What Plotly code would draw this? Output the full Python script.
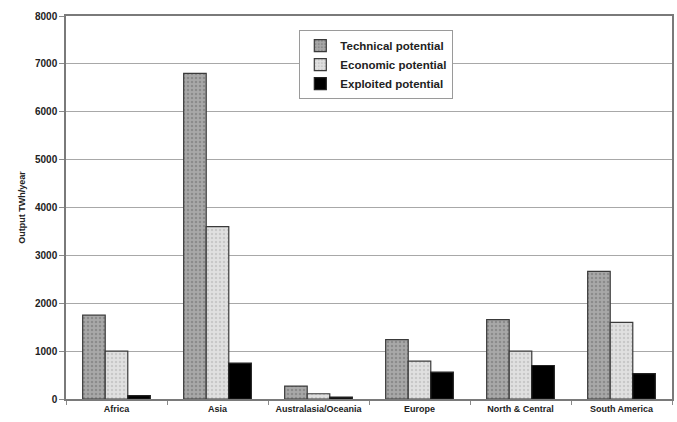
import plotly.graph_objects as go

regions = ["Africa", "Asia", "Australasia/Oceania", "Europe", "North & Central", "South America"]
technical = [1750, 6800, 270, 1240, 1660, 2665]
economic = [1000, 3600, 110, 790, 1000, 1600]
exploited = [70, 750, 40, 560, 700, 530]
y_ticks = [0, 1000, 2000, 3000, 4000, 5000, 6000, 7000, 8000]

font_family = "Liberation Sans, Arial, sans-serif"

fig = go.Figure()
fig.add_trace(go.Bar(
    x=regions, y=technical, name="<b>Technical potential</b>",
    marker=dict(color="#a3a3a3", line=dict(color="#3a3a3a", width=1.2),
                pattern=dict(shape=".", fgcolor="#6e6e6e", bgcolor="#a8a8a8", size=4, solidity=0.3)),
))
fig.add_trace(go.Bar(
    x=regions, y=economic, name="<b>Economic potential</b>",
    marker=dict(color="#dadada", line=dict(color="#3a3a3a", width=1.2),
                pattern=dict(shape=".", fgcolor="#b0b0b0", bgcolor="#e0e0e0", size=4, solidity=0.3)),
))
fig.add_trace(go.Bar(
    x=regions, y=exploited, name="<b>Exploited potential</b>",
    marker=dict(color="#000000", line=dict(color="#222222", width=1.2)),
))

fig.update_layout(
    width=677, height=422,
    margin=dict(l=66, r=5, t=16, b=23, autoexpand=False),
    paper_bgcolor="white", plot_bgcolor="white",
    barmode="group", bargap=0.33, bargroupgap=0,
    font=dict(family=font_family, size=9, color="#222222"),
    showlegend=True,
    legend=dict(
        x=0.385, y=0.963, xanchor="left", yanchor="top",
        bgcolor="white", bordercolor="#9a9a9a", borderwidth=1,
        font=dict(family=font_family, size=11.5, color="#222222"),
        tracegroupgap=0, itemwidth=30,
    ),
    xaxis=dict(
        automargin=False,
        showline=True, linecolor="#7a7a7a", linewidth=1.5, mirror=True,
        ticks="outside", tickson="boundaries", ticklen=4, tickcolor="#8a8a8a",
        tickfont=dict(family=font_family, size=9, color="#222222", weight="bold"),
        showgrid=False,
    ),
    yaxis=dict(
        automargin=False,
        range=[0, 8000], tickvals=y_ticks, ticktext=[f"<b>{v}</b>" for v in y_ticks],
        showline=True, linecolor="#7a7a7a", linewidth=1.5, mirror=True,
        ticks="outside", ticklen=5, tickcolor="#8a8a8a",
        showgrid=True, gridcolor="#a8a8a8", gridwidth=1,
        tickfont=dict(family=font_family, size=10, color="#222222"),
        title=dict(text="<b>Output TWh/year</b>", font=dict(family=font_family, size=9, color="#222222"), standoff=8),
        zeroline=False,
    ),
)

fig.write_html("out.html", config={"displayModeBar": False},
               post_script="document.body.style.margin='0';document.body.style.overflow='hidden';")
